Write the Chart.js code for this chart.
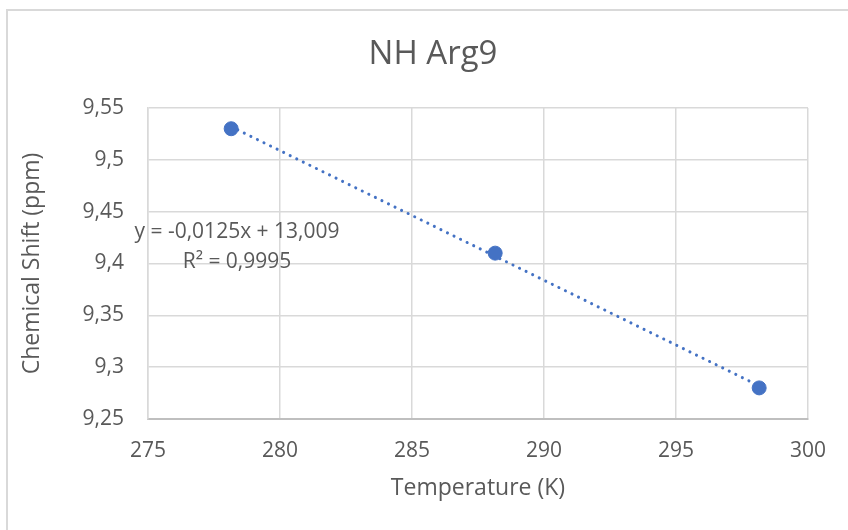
<!DOCTYPE html>
<html>
<head>
<meta charset="utf-8">
<script src="https://cdn.jsdelivr.net/npm/chart.js@4"></script>
<style>
  html, body { margin: 0; padding: 0; background: #fff; overflow: hidden; }
  #wrap { position: relative; width: 848px; height: 530px; }
  #frame { position: absolute; left: 6px; top: 9px; width: 900px; height: 600px; border: 2px solid #d9d9d9; box-sizing: border-box; }
  canvas { position: absolute; left: 0; top: 0; }
</style>
</head>
<body>
<div id="wrap">
  <div id="frame"></div>
  <canvas id="chart" width="848" height="530"></canvas>
</div>
<script>
// data
const temps = [278.15, 288.15, 298.15];
const shifts = [9.53, 9.41, 9.28];
const trendX = [278.15, 298.15];
const trendY = [9.532, 9.282];
const xTicks = [275, 280, 285, 290, 295, 300];
const yTicks = [9.25, 9.3, 9.35, 9.4, 9.45, 9.5, 9.55];
const titleText = 'NH Arg9';
const eqLines = ['y = -0,0125x + 13,009', 'R² = 0,9995'];

const FONT = "'Open Sans', 'DejaVu Sans', sans-serif";
const TXT = '#595959';
const comma = v => String(v).replace('.', ',');

// chart title + trendline equation, drawn as text
const labels = {
  id: 'labels',
  afterDatasetsDraw(chart) {
    const ctx = chart.ctx;
    ctx.save();
    ctx.fillStyle = TXT;
    ctx.textAlign = 'center';
    ctx.textBaseline = 'middle';
    ctx.font = '33px ' + FONT;
    ctx.fillText(titleText, 433, 55);
    ctx.font = '21px ' + FONT;
    ctx.fillText(eqLines[0], 237, 232);
    ctx.fillText(eqLines[1], 237, 262);
    ctx.restore();
  }
};

new Chart(document.getElementById('chart'), {
  type: 'scatter',
  data: {
    datasets: [
      {
        label: 'NH Arg9',
        data: temps.map((t, i) => ({ x: t, y: shifts[i] })),
        backgroundColor: '#4472C4',
        borderColor: '#4472C4',
        pointRadius: 7,
        pointHoverRadius: 7,
        order: 1
      },
      {
        label: 'trend',
        type: 'line',
        data: trendX.map((t, i) => ({ x: t, y: trendY[i] })),
        borderColor: '#4472C4',
        borderWidth: 3,
        borderDash: [0.1, 7.2],
        borderCapStyle: 'round',
        pointRadius: 0,
        fill: false,
        order: 2
      }
    ]
  },
  options: {
    responsive: false,
    animation: false,
    layout: { padding: { left: 0, right: 40, top: 108, bottom: 0 } },
    plugins: {
      legend: { display: false },
      tooltip: { enabled: false },
      title: { display: false }
    },
    scales: {
      x: {
        type: 'linear',
        min: 275, max: 300,
        afterBuildTicks: s => { s.ticks = xTicks.map(v => ({ value: v })); },
        afterFit: s => { s.height = 111; },
        grid: { color: '#d9d9d9', lineWidth: 1.5, drawTicks: false },
        border: { color: '#bfbfbf', width: 2 },
        ticks: { color: TXT, padding: 19, font: { family: FONT, size: 21 }, callback: v => comma(v) },
        title: { display: true, text: 'Temperature (K)', color: TXT, font: { family: FONT, size: 23 }, padding: { top: 4, bottom: 28 } }
      },
      y: {
        type: 'linear',
        min: 9.25, max: 9.55,
        afterBuildTicks: s => { s.ticks = yTicks.map(v => ({ value: v })); },
        afterFit: s => { s.width = 148; },
        grid: { color: '#d9d9d9', lineWidth: 1.5, drawTicks: false },
        border: { color: '#d9d9d9', width: 1.5 },
        ticks: { color: TXT, padding: 24, font: { family: FONT, size: 21 }, callback: v => comma(Math.round(v * 100) / 100) },
        title: { display: true, text: 'Chemical Shift (ppm)', color: TXT, font: { family: FONT, size: 23 }, padding: { top: 19, bottom: 19 } }
      }
    }
  },
  plugins: [labels]
});
</script>
</body>
</html>
